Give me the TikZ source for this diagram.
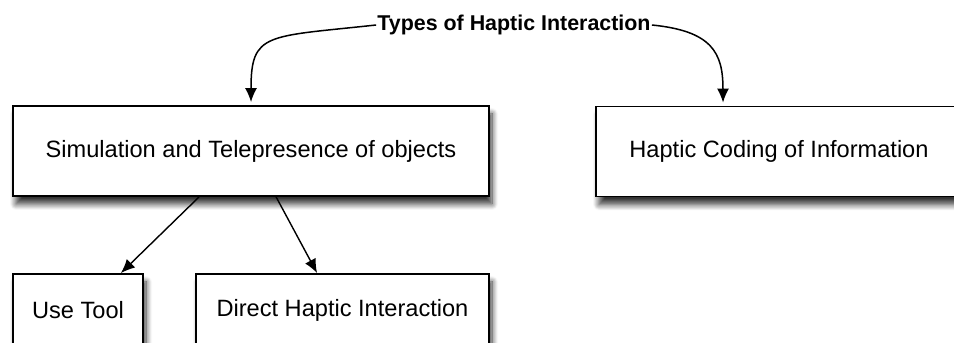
\documentclass[tikz,border=0pt]{standalone}
\usepackage{fontspec}
\setmainfont{Liberation Sans}
\usetikzlibrary{arrows.meta,shadows.blur}

\begin{document}
\begin{tikzpicture}[x=1pt, y=1pt, >={Latex[length=7pt,width=6pt]}, box/.style={draw, line width=0.9pt, rectangle, fill=white, blur shadow={shadow xshift=1.5pt, shadow yshift=-4pt, shadow opacity=80, shadow blur radius=3pt, shadow blur steps=10}, font=\fontsize{11.8}{14}\selectfont, align=center}]
  \clip (0,0) rectangle (477,171.5);
  \node[inner sep=0.5pt, font=\fontsize{10.7}{13}\selectfont\bfseries] (types) at (257,159) {Types of Haptic Interaction};
  \node[box, minimum width=238pt, minimum height=45pt] (sim) at (125.5,96) {Simulation and Telepresence of objects};
  \node[box, minimum width=183pt, minimum height=45pt] (coding) at (389.5,95.75) {Haptic Coding of Information};
  \node[box, minimum width=65pt, minimum height=36pt] (tool) at (39,16.5) {Use Tool};
  \node[box, minimum width=146.5pt, minimum height=36pt] (direct) at (171.25,16.5) {Direct Haptic Interaction};
  % top level
  \draw[->, line width=0.75pt] (types.west) .. controls +(-55,-6) and +(0,35) .. ([yshift=1.5pt]sim.north);
  \draw[->, line width=0.75pt] (types.east) .. controls +(30,-3) and +(0,25) .. ([xshift=-28pt, yshift=1.5pt]coding.north);
  % second level
  \draw[->, line width=0.7pt] ([xshift=93.5pt]sim.south west) -- ([xshift=-11.5pt]tool.north east);
  \draw[->, line width=0.7pt] ([xshift=132pt]sim.south west) -- ([xshift=61pt]direct.north west);
\end{tikzpicture}
\end{document}
